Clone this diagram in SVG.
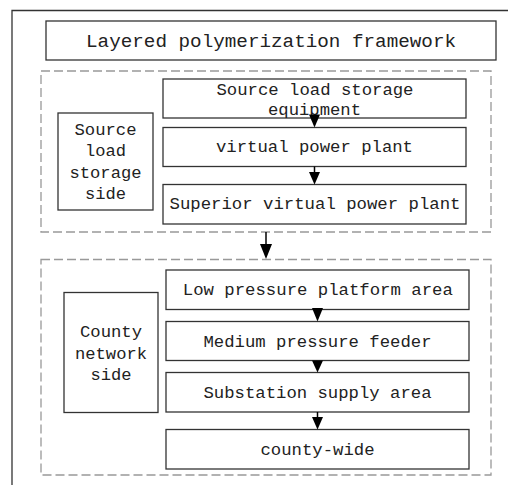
<svg xmlns="http://www.w3.org/2000/svg" width="508" height="485" viewBox="0 0 508 485">
<style>
.box{fill:#fff;stroke:#333;stroke-width:1.3}
.dash{fill:none;stroke:#999;stroke-width:1.3;stroke-dasharray:9 4}
.t{font-family:"Liberation Mono","DejaVu Sans Mono",monospace;font-size:16px;fill:#222;text-anchor:middle}
.tt{font-family:"Liberation Mono","DejaVu Sans Mono",monospace;font-size:18px;fill:#222;text-anchor:middle}
.ln{stroke:#000;stroke-width:1.5;fill:none}
.hd{fill:#000}
</style>
<rect width="508" height="485" fill="#fff"/>
<g id="frame"><path d="M12,485 V10.5 H508" fill="none" stroke="#333" stroke-width="1.3"/></g>
<g id="title"><rect class="box" x="46" y="21" width="450" height="39"/><text class="tt" x="271" y="47" textLength="370" lengthAdjust="spacingAndGlyphs">Layered polymerization framework</text></g>
<g id="group1"><rect class="dash" x="41" y="71" width="450" height="161"/></g>
<g id="group2"><rect class="dash" x="41" y="259.5" width="450" height="215.5"/></g>
<g id="side1"><rect class="box" x="58" y="113" width="95" height="97"/>
<text class="t" x="105.5" y="134.5" textLength="62" lengthAdjust="spacingAndGlyphs">Source</text>
<text class="t" x="105.5" y="156" textLength="41" lengthAdjust="spacingAndGlyphs">load</text>
<text class="t" x="105.5" y="177.5" textLength="72" lengthAdjust="spacingAndGlyphs">storage</text>
<text class="t" x="105.5" y="199" textLength="41" lengthAdjust="spacingAndGlyphs">side</text></g>
<g id="equip"><rect class="box" x="163" y="79" width="303" height="39"/>
<text class="t" x="315" y="94.5" textLength="197" lengthAdjust="spacingAndGlyphs">Source load storage</text>
<text class="t" x="314.5" y="115" textLength="93" lengthAdjust="spacingAndGlyphs">equipment</text></g>
<g id="vpp"><rect class="box" x="163" y="127.5" width="303" height="39"/>
<text class="t" x="314.5" y="152" textLength="197" lengthAdjust="spacingAndGlyphs">virtual power plant</text></g>
<g id="svpp"><rect class="box" x="163" y="184.5" width="303" height="39.5"/>
<text class="t" x="315" y="209" textLength="291" lengthAdjust="spacingAndGlyphs">Superior virtual power plant</text></g>
<g id="side2"><rect class="box" x="64" y="292.5" width="94" height="120"/>
<text class="t" x="111" y="336.5" textLength="62" lengthAdjust="spacingAndGlyphs">County</text>
<text class="t" x="111" y="358.5" textLength="72" lengthAdjust="spacingAndGlyphs">network</text>
<text class="t" x="111" y="380" textLength="41" lengthAdjust="spacingAndGlyphs">side</text></g>
<g id="low"><rect class="box" x="166" y="270" width="303" height="39.5"/>
<text class="t" x="317.8" y="295" textLength="270" lengthAdjust="spacingAndGlyphs">Low pressure platform area</text></g>
<g id="medium"><rect class="box" x="166" y="321.5" width="303" height="39"/>
<text class="t" x="317.5" y="346.5" textLength="228" lengthAdjust="spacingAndGlyphs">Medium pressure feeder</text></g>
<g id="substation"><rect class="box" x="166" y="372.5" width="303" height="39.5"/>
<text class="t" x="317.5" y="398" textLength="228" lengthAdjust="spacingAndGlyphs">Substation supply area</text></g>
<g id="county"><rect class="box" x="166" y="429.5" width="303" height="39.5"/>
<text class="t" x="317.5" y="455" textLength="114" lengthAdjust="spacingAndGlyphs">county-wide</text></g>
<g id="connectors">
<polygon class="hd" points="309,114.5 320,114.5 314.5,127.5"/>
<line class="ln" x1="314.5" y1="166.5" x2="314.5" y2="173"/>
<polygon class="hd" points="309,172 320,172 314.5,184.5"/>
<line class="ln" x1="266" y1="232" x2="266" y2="245"/>
<polygon class="hd" points="260,244 272,244 266,259"/>
<polygon class="hd" points="312,308 323,308 317.5,321.5"/>
<polygon class="hd" points="312,360.5 323,360.5 317.5,372.5"/>
<line class="ln" x1="317.5" y1="412" x2="317.5" y2="418"/>
<polygon class="hd" points="312,417 323,417 317.5,429.5"/>
</g>
</svg>
